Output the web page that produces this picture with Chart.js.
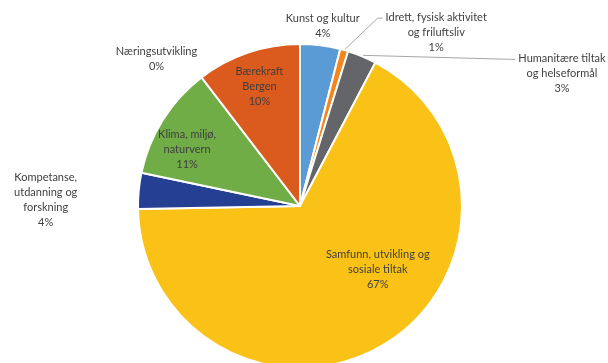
<!DOCTYPE html>
<html>
<head>
<meta charset="utf-8">
<script src="https://cdn.jsdelivr.net/npm/chart.js@4.4.1/dist/chart.umd.min.js"></script>
<style>
  html, body { margin: 0; padding: 0; background: #fff; overflow: hidden; }
  #wrap { width: 608px; height: 363px; overflow: hidden; }
</style>
</head>
<body>
<div id="wrap"><canvas id="kakediagram" width="608" height="380"></canvas></div>
<script>
// =====================
// Data
// =====================
const kategorier = [
  "Kunst og kultur",
  "Idrett, fysisk aktivitet og friluftsliv",
  "Humanitære tiltak og helseformål",
  "Samfunn, utvikling og sosiale tiltak",
  "Kompetanse, utdanning og forskning",
  "Klima, miljø, naturvern",
  "Næringsutvikling",
  "Bærekraft Bergen",
];
// linjeskift slik navnene står på etikettene
const etikettLinjer = [
  ["Kunst og kultur"],
  ["Idrett, fysisk aktivitet", "og friluftsliv"],
  ["Humanitære tiltak", "og helseformål"],
  ["Samfunn, utvikling og", "sosiale tiltak"],
  ["Kompetanse,", "utdanning og", "forskning"],
  ["Klima, miljø,", "naturvern"],
  ["Næringsutvikling"],
  ["Bærekraft", "Bergen"],
];
const andeler = [4.0, 0.8, 2.9, 67.0, 3.6, 11.3, 0, 10.4];

// =====================
// Utseende
// =====================
const farger = ["#5B9BD5", "#F5851F", "#646569", "#FAC117", "#253F93", "#70AD47", "#A5A5A5", "#DB5A1E"];

// plassering av etiketter: f = andel av radius langs midtvinkel, dx/dy = forskyvning
const etikettPlass = [
  { f: 1.12, dx: 0, dy: 0 },
  { f: 1.0, dx: 92, dy: -18, linje: true },
  { f: 1.0, dx: 200, dy: 17, linje: true },
  { f: 0.62, dx: 25, dy: -22 },
  { f: 1.0, dx: -93, dy: 9 },
  { f: 0.78, dx: -6, dy: 11 },
  { f: 1.0, dx: -45, dy: -18 },
  { f: 0.78, dx: 0, dy: 0 },
];

const FONT = "11px Lato, 'Open Sans', sans-serif";
const LINJEHOYDE = 15;

// =====================
// Etiketter og ledelinjer
// =====================
const etikettPlugin = {
  id: "etiketter",
  afterDatasetsDraw(chart) {
    const ctx = chart.ctx;
    const meta = chart.getDatasetMeta(0);
    const sum = andeler.reduce((a, b) => a + b, 0);

    ctx.save();
    ctx.font = FONT;
    ctx.textAlign = "center";
    ctx.textBaseline = "middle";

    meta.data.forEach((arc, i) => {
      const p = arc.getProps(["x", "y", "startAngle", "endAngle", "outerRadius"], true);
      const mid = (p.startAngle + p.endAngle) / 2;
      const plass = etikettPlass[i];
      const kx = p.x + Math.cos(mid) * p.outerRadius * plass.f;
      const ky = p.y + Math.sin(mid) * p.outerRadius * plass.f;
      const cx = kx + plass.dx;
      const cy = ky + plass.dy;

      const linjer = etikettLinjer[i].concat([Math.round((andeler[i] / sum) * 100) + "%"]);
      const topp = cy - ((linjer.length - 1) * LINJEHOYDE) / 2;

      if (plass.linje) {
        const bredde = ctx.measureText(linjer[0]).width;
        const venstre = cx - bredde / 2;
        ctx.strokeStyle = "#A6A6A6";
        ctx.lineWidth = 1;
        ctx.beginPath();
        ctx.moveTo(kx + 1, ky - 1);
        ctx.lineTo(venstre - 8, topp + 1);
        ctx.lineTo(venstre - 3, topp + 1);
        ctx.stroke();
      }

      ctx.fillStyle = "#3F3F3F";
      linjer.forEach((t, j) => ctx.fillText(t, cx, topp + j * LINJEHOYDE));
    });
    ctx.restore();
  },
};

// =====================
// Kakediagram
// =====================
new Chart(document.getElementById("kakediagram"), {
  type: "pie",
  data: {
    labels: kategorier,
    datasets: [
      {
        data: andeler,
        backgroundColor: farger,
        borderColor: "#ffffff",
        borderWidth: 2,
      },
    ],
  },
  options: {
    responsive: false,
    animation: false,
    layout: { padding: { left: 137, right: 145, top: 43, bottom: 11 } },
    plugins: {
      legend: { display: false },
      tooltip: { enabled: false },
    },
  },
  plugins: [etikettPlugin],
});
</script>
</body>
</html>
